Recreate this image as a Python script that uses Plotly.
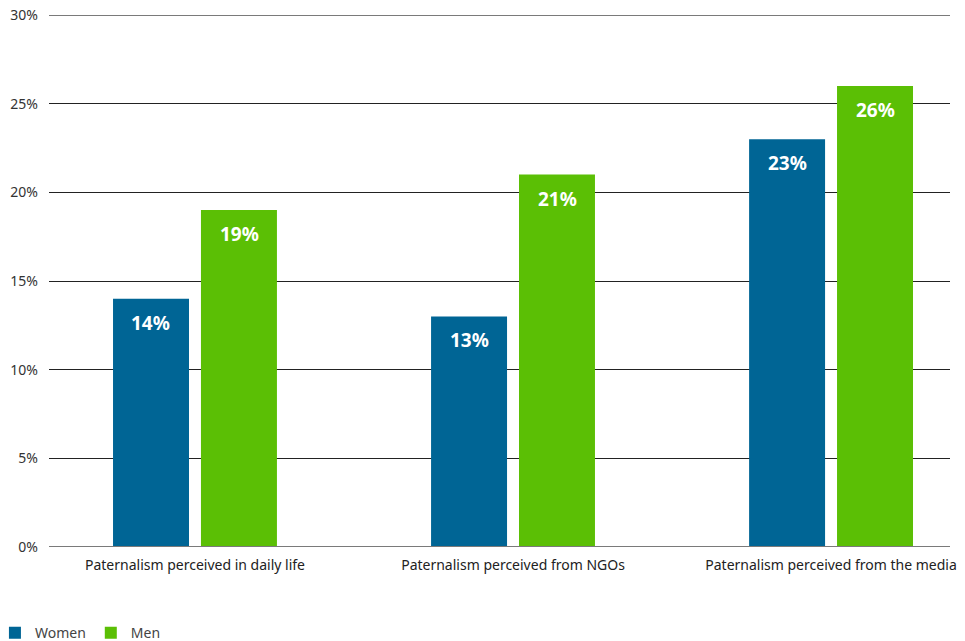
import plotly.graph_objects as go

categories = [
    "Paternalism perceived in daily life",
    "Paternalism perceived from NGOs",
    "Paternalism perceived from the media",
]
women = [14, 13, 23]
men = [19, 21, 26]
series_names = ["Women", "Men"]
colors = ["#006595", "#5bbf05"]
y_ticks = [0, 5, 10, 15, 20, 25, 30]

fig = go.Figure()
for name, vals, col in zip(series_names, [women, men], colors):
    fig.add_trace(go.Bar(
        x=categories, y=vals, name=name, marker=dict(color=col, line=dict(width=0)),
        hoverinfo="skip",
    ))

# value labels placed just below the top of each bar
half = 0.1384
for offset, vals in zip([-half, half], [women, men]):
    for i, v in enumerate(vals):
        fig.add_annotation(
            x=i + offset, y=v, xref="x", yref="y", text=f"<b>{v}%</b>",
            showarrow=False, yshift=-24,
            font=dict(family="Noto Sans", size=19, color="white"),
        )

# lighter, heavier rules at the bottom and top of the value range
for yv in (y_ticks[0], y_ticks[-1]):
    fig.add_shape(
        type="line", xref="paper", yref="y", x0=0, x1=1, y0=yv, y1=yv,
        line=dict(color="#7a7a7a", width=2), layer="above",
    )

fig.update_layout(
    width=965, height=641,
    margin=dict(l=49, r=15, t=15, b=94, autoexpand=False),
    paper_bgcolor="white", plot_bgcolor="white",
    barmode="group", bargap=0.447, bargroupgap=0.136,
    font=dict(family="Noto Sans", color="#333333"),
    showlegend=True,
    legend=dict(
        orientation="h", x=-0.060, xanchor="left", y=-0.162, yanchor="middle",
        font=dict(size=14, color="#444444"), itemwidth=30,
        traceorder="normal",
    ),
    xaxis=dict(
        type="category", range=[-0.459, 2.374], showgrid=False, zeroline=False,
        showline=False, ticks="", ticklabelstandoff=8,
        tickfont=dict(size=14, color="#222222"),
    ),
    yaxis=dict(
        range=[0, 30], tickvals=y_ticks, ticktext=[f"{t}%" for t in y_ticks],
        showgrid=True, gridcolor="#222222", gridwidth=1, zeroline=False,
        showline=False, ticks="", ticklabelstandoff=10,
        tickfont=dict(size=14, color="#333333"),
    ),
)

fig.write_html("out.html")
